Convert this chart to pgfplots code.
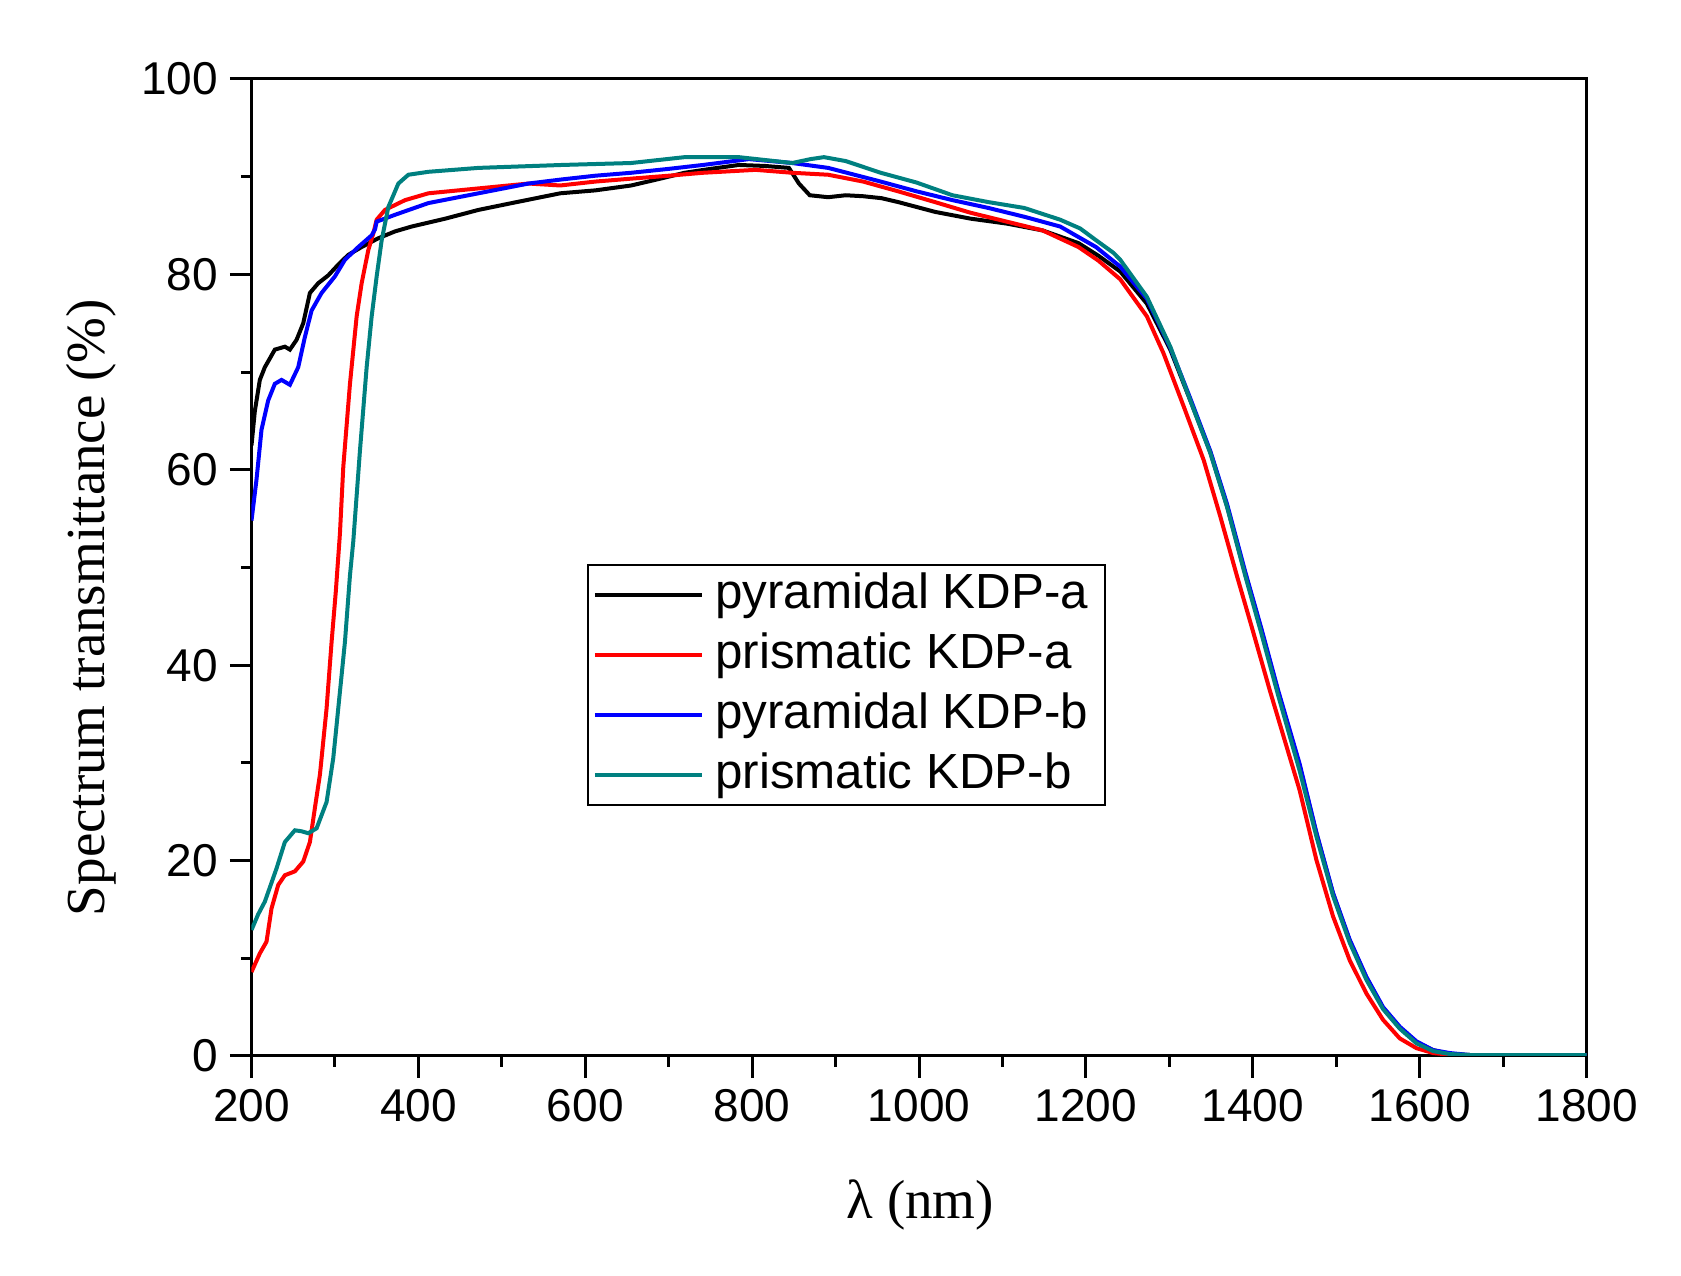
\documentclass[border=0pt]{standalone}
\usepackage{fontspec}
\setmainfont{Liberation Sans}
\newfontfamily\timesfont{Liberation Serif}
\usepackage{pgfplots}
\pgfplotsset{compat=1.18}
\definecolor{dcyan}{RGB}{0,128,128}

\pgfplotstableread{
x y
200 62.5
204 66.0
210 69.2
216 70.5
228 72.3
240 72.6
246 72.3
254 73.3
262 75.0
270 78.1
280 79.1
292 79.9
304 81.0
316 82.0
332 82.8
352 83.7
372 84.4
392 84.9
432 85.7
472 86.6
512 87.3
570 88.3
612 88.6
655 89.1
690 89.8
719 90.4
750 90.8
784 91.2
815 91.1
844 90.9
856 89.3
869 88.1
891 87.9
912 88.1
933 88.0
955 87.8
975 87.4
1019 86.4
1062 85.7
1105 85.2
1148 84.5
1191 83.2
1215 81.9
1241 80.3
1273 77.0
1301 72.3
1325 67.1
1349 61.8
1369 56.3
1391 49.3
1410 43.6
1430 37.3
1456 29.7
1476 22.8
1496 16.6
1516 11.8
1536 8.0
1556 4.9
1576 2.9
1596 1.4
1616 0.6
1636 0.2
1660 0.1
1800 0.1
}\pyra

\pgfplotstableread{
x y
200 8.6
210 10.5
218 11.7
224 15.1
232 17.5
240 18.5
252 18.9
262 19.9
270 21.9
276 25.4
282 28.8
290 35.6
296 42.4
301 47.5
306 53.5
310 60.3
318 68.8
326 75.7
332 79.1
340 82.5
346 84.2
350 85.6
360 86.6
384 87.6
412 88.3
472 88.8
532 89.3
570 89.1
612 89.5
655 89.8
700 90.1
741 90.4
804 90.7
848 90.4
891 90.2
933 89.5
975 88.5
1019 87.4
1062 86.3
1105 85.4
1148 84.5
1191 82.8
1215 81.4
1241 79.5
1273 75.7
1293 71.9
1317 66.5
1341 61.0
1361 55.2
1381 49.1
1400 43.5
1420 37.5
1456 27.2
1476 20.1
1496 14.3
1516 9.8
1536 6.4
1556 3.7
1576 1.8
1596 0.8
1616 0.3
1640 0.1
1800 0.1
}\prisa

\pgfplotstableread{
x y
200 54.8
206 59.0
212 64.1
220 67.1
228 68.8
236 69.2
246 68.7
256 70.5
264 73.6
272 76.3
284 78.1
300 79.8
312 81.5
328 82.8
344 84.0
348 84.6
350 85.4
372 86.1
412 87.3
472 88.3
532 89.3
570 89.7
612 90.1
655 90.4
700 90.8
741 91.2
796 91.8
848 91.4
891 90.9
954 89.5
997 88.5
1040 87.6
1083 86.8
1126 85.9
1169 84.9
1212 82.8
1241 80.8
1273 77.5
1301 72.5
1325 67.3
1349 61.9
1369 56.5
1391 49.5
1410 43.8
1430 37.5
1456 29.9
1476 22.9
1496 16.7
1516 11.9
1536 8.1
1556 5.0
1576 3.0
1596 1.5
1616 0.6
1636 0.3
1660 0.1
1800 0.1
}\pyrb

\pgfplotstableread{
x y
200 12.9
208 14.5
216 15.8
230 19.2
240 21.9
252 23.1
260 23.0
268 22.8
278 23.3
290 26.0
298 30.5
304 35.6
312 42.4
318 49.2
322 52.7
330 62.0
338 70.5
344 75.7
350 79.8
356 83.5
364 86.9
376 89.3
388 90.2
412 90.5
472 90.9
572 91.2
655 91.4
719 92.0
784 92.0
848 91.4
870 91.8
886 92.0
912 91.6
954 90.4
997 89.4
1040 88.1
1083 87.4
1126 86.8
1169 85.6
1193 84.7
1212 83.5
1233 82.2
1241 81.5
1273 77.7
1301 72.6
1325 67.1
1349 61.7
1369 56.2
1391 49.1
1410 43.3
1430 37.0
1456 29.2
1476 22.5
1496 16.4
1516 11.6
1536 7.8
1556 4.8
1576 2.8
1596 1.3
1616 0.5
1636 0.2
1660 0.1
1800 0.1
}\prisb

\begin{document}
\begin{tikzpicture}
\useasboundingbox (-75.45pt,-66pt) rectangle (428.85pt,316.8pt);
\begin{axis}[
  at={(0pt,0pt)}, anchor=south west,
  scale only axis, width=400.56pt, height=293.1pt,
  xmin=200, xmax=1800, ymin=0, ymax=100,
  xtick={200,400,...,1800}, ytick={0,20,...,100},
  minor x tick num=1, minor y tick num=1,
  tick pos=left, tick align=outside,
  major tick length=6.5pt, minor tick length=3.2pt,
  axis line style={line width=0.9pt},
  every tick/.style={line width=0.9pt, black},
  /pgf/number format/assume math mode=true,
  /pgf/number format/1000 sep={},
  tick label style={font=\fontsize{13.8}{16}\selectfont},
  xlabel={λ (nm)},
  ylabel={Spectrum transmittance (\%)},
  label style={font=\timesfont\fontsize{16.5}{19}\selectfont},
  xlabel style={at={(axis description cs:0.501,-0.152)}, anchor=center},
  ylabel style={at={(axis description cs:-0.12,0.459)}, anchor=center},
  legend cell align=left,
  legend style={at={(axis cs:602,50.36)}, anchor=north west, draw=black,
    line width=0.6pt, fill=white, inner xsep=1.5pt, inner ysep=0pt,
    row sep=0pt, font=\fontsize{14.8}{17}\selectfont,
    nodes={inner xsep=3.5pt, inner ysep=1.5pt, text height=11.5pt, text depth=3.5pt}},
  legend image code/.code={\draw[#1, line width=1.2pt] (0pt,0pt) -- (32pt,0pt);},
]
\addplot[black, line width=1.2pt] table {\pyra};
\addlegendentry{pyramidal KDP-a}
\addplot[red, line width=1.2pt] table {\prisa};
\addlegendentry{prismatic KDP-a}
\addplot[blue, line width=1.2pt] table {\pyrb};
\addlegendentry{pyramidal KDP-b}
\addplot[dcyan, line width=1.2pt] table {\prisb};
\addlegendentry{prismatic KDP-b}
\end{axis}
\end{tikzpicture}
\end{document}
